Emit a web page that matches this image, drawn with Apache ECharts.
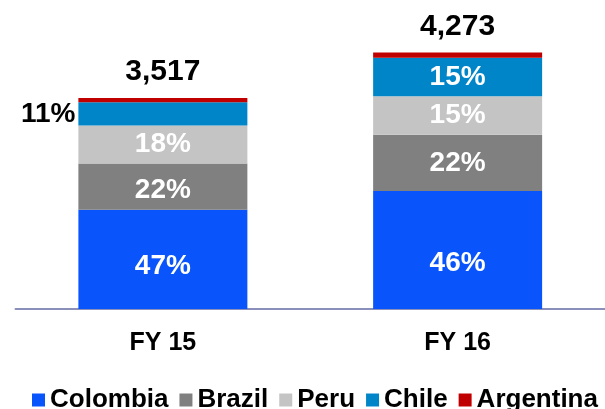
<!DOCTYPE html>
<html>
<head>
<meta charset="utf-8">
<script src="https://cdn.jsdelivr.net/npm/echarts@6/dist/echarts.min.js"></script>
<style>
  html, body { margin: 0; padding: 0; background: #fff; }
  #chart { width: 605px; height: 409px; }
</style>
</head>
<body>
<div id="chart"></div>
<script>
// categories and values
var years = ['FY 15', 'FY 16'];
var totals = ['3,517', '4,273'];

var colombia = [1653, 1966];
var brazil = [774, 940];
var peru = [633, 641];
var chile = [387, 641];
var argentina = [70, 85];

var colombiaPct = ['47%', '46%'];
var brazilPct = ['22%', '22%'];
var peruPct = ['18%', '15%'];
var chilePct = ['11%', '15%'];

var FONT = '"Liberation Sans", Arial, sans-serif';

// per-bar nudges of the percentage labels, as in the original slide
function withLabels(values, offsets, extra) {
  return values.map(function (v, i) {
    var lab = { offset: [0, offsets[i]] };
    if (extra && extra[i]) {
      Object.assign(lab, extra[i]);
    }
    return { value: v, label: lab };
  });
}

function pctLabel(pcts) {
  return {
    show: true,
    position: 'inside',
    color: '#fff',
    fontFamily: FONT,
    fontWeight: 'bold',
    fontSize: 28,
    formatter: function (p) { return pcts[p.dataIndex]; }
  };
}

var chart = echarts.init(document.getElementById('chart'));
chart.setOption({
  animation: false,
  color: ['#0a55fb', '#808080', '#c4c4c4', '#0086c8', '#c00000'],
  grid: { left: 15.5, width: 592, top: 33, bottom: 100 },
  legend: {
    left: 27,
    top: 382,
    itemWidth: 13,
    itemHeight: 13,
    itemGap: 11,
    icon: 'rect',
    textStyle: { color: '#000', fontFamily: FONT, fontWeight: 'bold', fontSize: 26 },
    data: ['Colombia', 'Brazil', 'Peru', 'Chile', 'Argentina']
  },
  xAxis: {
    type: 'category',
    data: years,
    axisLine: { lineStyle: { color: '#8b90bb', width: 2 } },
    axisTick: { show: false },
    axisLabel: { color: '#000', fontFamily: FONT, fontWeight: 'bold', fontSize: 25, margin: 22 }
  },
  yAxis: {
    type: 'value',
    min: 0,
    max: 4600,
    show: false,
    splitLine: { show: false }
  },
  series: [
    { name: 'Colombia', type: 'bar', stack: 'a', barWidth: 169,
      data: withLabels(colombia, [7, 13]), label: pctLabel(colombiaPct) },
    { name: 'Brazil', type: 'bar', stack: 'a',
      data: withLabels(brazil, [4, 0]), label: pctLabel(brazilPct) },
    { name: 'Peru', type: 'bar', stack: 'a',
      data: withLabels(peru, [0, 0]), label: pctLabel(peruPct) },
    { name: 'Chile', type: 'bar', stack: 'a',
      data: withLabels(chile, [0, 0], [{ position: 'left', distance: 3, color: '#000' }, null]),
      label: pctLabel(chilePct) },
    {
      name: 'Argentina', type: 'bar', stack: 'a', data: argentina,
      label: {
        show: true,
        position: 'top',
        distance: 11,
        color: '#000',
        fontFamily: FONT,
        fontWeight: 'bold',
        fontSize: 30,
        formatter: function (p) { return totals[p.dataIndex]; }
      }
    }
  ]
});
</script>
</body>
</html>
